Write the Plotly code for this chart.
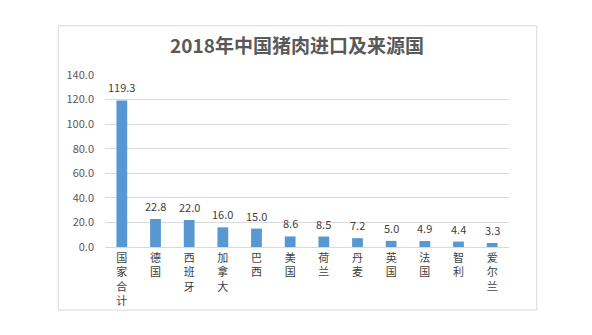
import plotly.graph_objects as go

title = "2018年中国猪肉进口及来源国"
countries = ["国家合计", "德国", "西班牙", "加拿大", "巴西", "美国", "荷兰", "丹麦", "英国", "法国", "智利", "爱尔兰"]
values = [119.3, 22.8, 22.0, 16.0, 15.0, 8.6, 8.5, 7.2, 5.0, 4.9, 4.4, 3.3]
y_ticks = [0, 20, 40, 60, 80, 100, 120, 140]

FONT = "Noto Sans CJK SC"
vertical = ["<br>".join(list(c)) for c in countries]

fig = go.Figure()
fig.add_trace(go.Bar(
    x=countries, y=values, marker=dict(color="#5898D2", line=dict(width=0)),
    width=0.32, hoverinfo="x+y",
))

for c, v in zip(countries, values):
    fig.add_annotation(x=c, y=v, text=f"{v:.1f}", showarrow=False, yshift=13,
                       yanchor="middle", font=dict(family=FONT, size=11, color="#404040"))

fig.add_shape(type="rect", xref="paper", yref="paper", x0=-0.1157, x1=1.0687, y0=-0.367, y1=1.286,
              line=dict(color="#D9D9D9", width=1), fillcolor="rgba(0,0,0,0)", layer="below")

fig.update_layout(
    width=592, height=335,
    margin=dict(l=105, r=83, t=74.5, b=87.5),
    paper_bgcolor="white", plot_bgcolor="white",
    showlegend=False, bargap=0.68,
    title=dict(text=f"<b>{title}</b>", x=297 / 592, xanchor="center", y=1 - 46.5 / 335, yanchor="middle",
               font=dict(family=FONT, size=19, color="#595959")),
    font=dict(family=FONT, color="#595959"),
)
fig.update_xaxes(tickvals=countries, ticktext=vertical, tickfont=dict(family=FONT, size=11, color="#404040"),
                 showgrid=False, showline=False, ticks="", tickangle=0, ticklabelstandoff=3)
fig.update_yaxes(range=[0, 140], tickvals=y_ticks, tickformat=".1f", tickfont=dict(family=FONT, size=11, color="#595959"),
                 showgrid=True, gridcolor="#D9D9D9", gridwidth=1, zeroline=True, zerolinecolor="#D9D9D9",
                 zerolinewidth=1, showline=False, ticks="", ticklabelstandoff=10)

fig.write_html("out.html")
